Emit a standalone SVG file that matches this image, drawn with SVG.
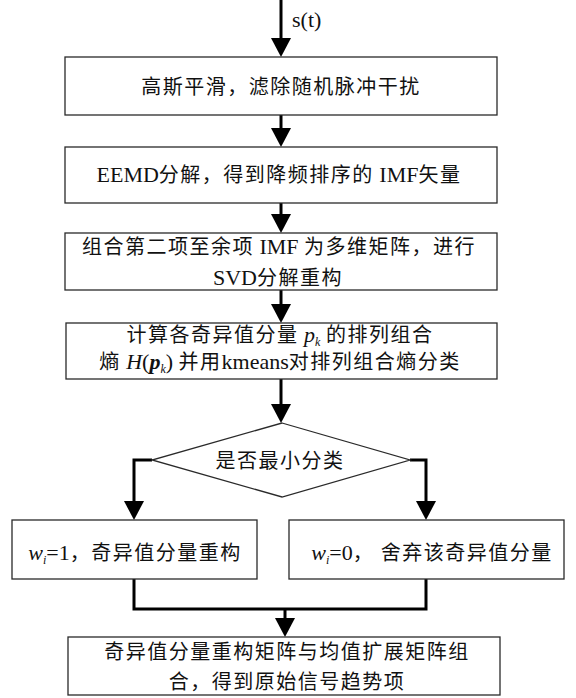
<svg xmlns="http://www.w3.org/2000/svg" width="576" height="698" viewBox="0 0 576 698">
<style>
.box{fill:#fff;stroke:#2a2a2a;stroke-width:1.3}
.t{font-family:"Liberation Serif","Noto Sans CJK SC",serif;font-size:20px;letter-spacing:1.5px;fill:#111;text-anchor:middle}
.l{font-size:22px;letter-spacing:0}
.i{font-style:italic;font-size:22px;letter-spacing:0}
.s{font-style:italic;font-size:12px;letter-spacing:0}
.c{fill:none;stroke:#000;stroke-width:3}
</style>
<defs>
<marker id="ah" markerUnits="userSpaceOnUse" markerWidth="20" markerHeight="20" refX="11" refY="10" orient="auto">
<path d="M0,0 L19,10 L0,20 z" fill="#000"/>
</marker>
</defs>
<g id="connectors">
<path class="c" d="M281,0 V49" marker-end="url(#ah)"/>
<text class="t" x="292" y="27" text-anchor="start" style="text-anchor:start"><tspan class="l">s(t)</tspan></text>
<path class="c" d="M281,115 V139" marker-end="url(#ah)"/>
<path class="c" d="M281,203 V225" marker-end="url(#ah)"/>
<path class="c" d="M281,290 V315" marker-end="url(#ah)"/>
<path class="c" d="M281,379 V415" marker-end="url(#ah)"/>
<path class="c" d="M152,460 H134 V512" marker-end="url(#ah)"/>
<path class="c" d="M410,460 H426 V512" marker-end="url(#ah)"/>
<path class="c" d="M134,579 V609 H426 V579"/>
<path class="c" d="M285,609 V629" marker-end="url(#ah)"/>
</g>
<g id="n1">
<rect class="box" x="65" y="57" width="432" height="58"/>
<text class="t" x="281" y="94">高斯平滑，滤除随机脉冲干扰</text>
</g>
<g id="n2">
<rect class="box" x="65" y="147" width="432" height="56"/>
<text class="t" x="279" y="182"><tspan class="l">EEMD</tspan>分解，得到降频排序的<tspan class="l"> IMF</tspan>矢量</text>
</g>
<g id="n3">
<rect class="box" x="65" y="233" width="432" height="57"/>
<text class="t" x="279" y="254">组合第二项至余项<tspan class="l"> IMF </tspan>为多维矩阵，进行</text>
<text class="t" x="278" y="285"><tspan class="l">SVD</tspan>分解重构</text>
</g>
<g id="n4">
<rect class="box" x="66" y="323" width="431" height="56"/>
<text class="t" x="280" y="342">计算各奇异值分量<tspan class="l"> </tspan><tspan class="i">p</tspan><tspan class="s" dy="4">k</tspan><tspan class="l" dy="-4"> </tspan>的排列组合</text>
<text class="t" x="280" y="369">熵<tspan class="l"> </tspan><tspan class="i">H</tspan><tspan class="l">(</tspan><tspan class="i" font-weight="bold">p</tspan><tspan class="s" dy="4">k</tspan><tspan class="l" dy="-4">) </tspan>并用<tspan class="l">kmeans</tspan>对排列组合熵分类</text>
</g>
<g id="n5">
<polygon class="box" points="282,423 410,460 282,497 152,460"/>
<text class="t" x="280" y="468">是否最小分类</text>
</g>
<g id="n6">
<rect class="box" x="12" y="520" width="245" height="59"/>
<text class="t" x="135" y="560"><tspan class="i">w</tspan><tspan class="s" dy="4">i</tspan><tspan class="l" dy="-4">=1</tspan>，奇异值分量重构</text>
</g>
<g id="n7">
<rect class="box" x="289" y="520" width="275" height="59"/>
<text class="t" x="432" y="560"><tspan class="i">w</tspan><tspan class="s" dy="4">i</tspan><tspan class="l" dy="-4">=0</tspan>， 舍弃该奇异值分量</text>
</g>
<g id="n8">
<rect class="box" x="68" y="637" width="432" height="58"/>
<text class="t" x="287" y="659">奇异值分量重构矩阵与均值扩展矩阵组</text>
<text class="t" x="287" y="689">合，得到原始信号趋势项</text>
</g>
</svg>
